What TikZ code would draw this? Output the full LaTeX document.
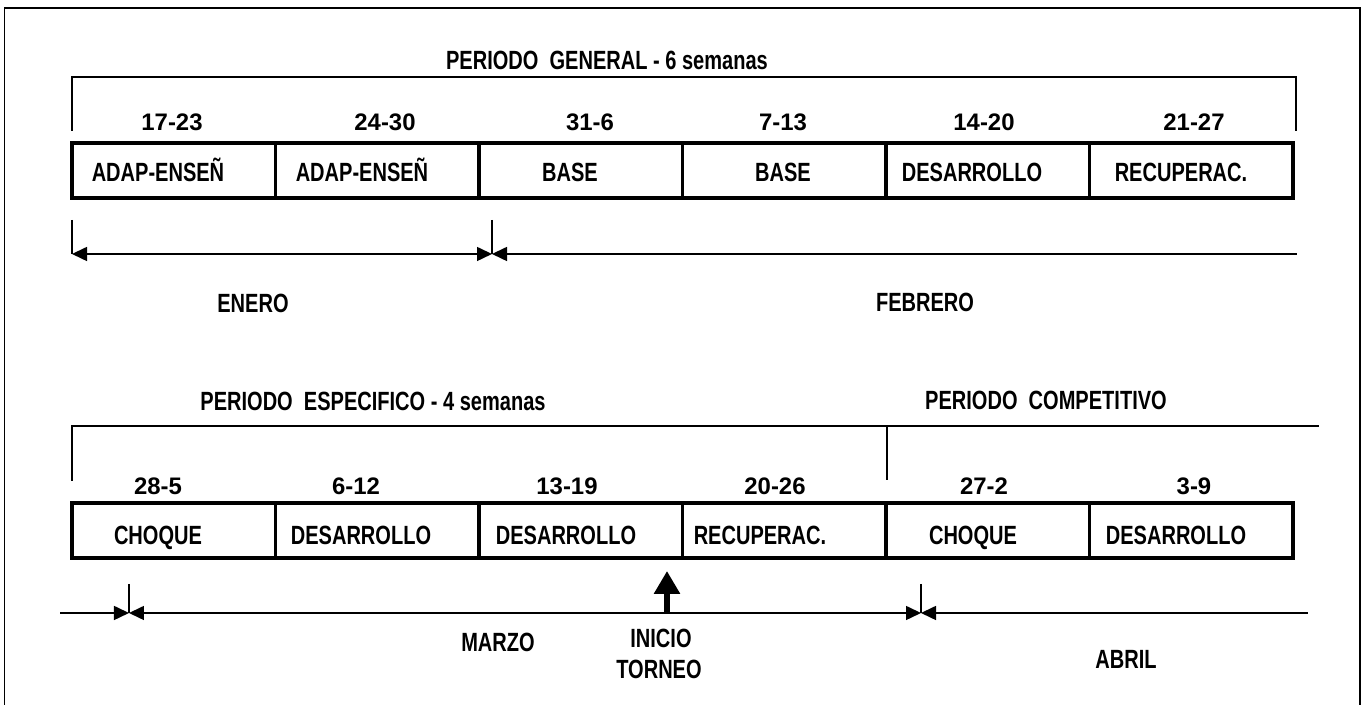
\documentclass[tikz,border=0pt]{standalone}
\usepackage{fontspec}
\setmainfont{Liberation Sans}[FakeStretch=0.76]
\newfontfamily\numfont{Liberation Sans}
\usetikzlibrary{arrows.meta,positioning}

\begin{document}
\begin{tikzpicture}[
  week/.style={rectangle, draw, line width=0.9pt, outer sep=0pt, inner sep=0pt,
    minimum width=2.035cm, minimum height=0.55cm},
  lbl/.style={font=\fontsize{7.5}{9}\selectfont\bfseries, inner sep=0pt,
    text height=1.9mm, text depth=0pt},
  days/.style={font=\numfont\fontsize{6.8}{8}\selectfont\bfseries, inner sep=0pt,
    text height=1.7mm, text depth=0pt},
  rule/.style={line width=0.45pt},
  dim/.style={rule, >={Triangle[length=1.5mm,width=1.4mm]}}
]
\useasboundingbox (0,0) rectangle (13.67,-7.05);
\draw[line width=0.5pt] (0.045,-7.05) |- (13.60,-0.08) -- (13.60,-7.05);

% periodo general
\node[lbl] (gen) at (6.07,-0.60) {PERIODO\ \ GENERAL - 6 semanas};
\draw[rule] (0.72,-1.31) |- (12.96,-0.77) -- (12.96,-1.31);

\node[week, anchor=north west] (g1) at (0.72,-1.43) {};
\node[week, right=0pt of g1] (g2) {};
\node[week, right=0pt of g2] (g3) {};
\node[week, right=0pt of g3] (g4) {};
\node[week, right=0pt of g4] (g5) {};
\node[week, right=0pt of g5] (g6) {};

\node[days] (gd1) at (1.72,-1.225) {17-23};
\node[days] (gd2) at (3.85,-1.225) {24-30};
\node[days] (gd3) at (5.90,-1.225) {31-6};
\node[days] (gd4) at (7.83,-1.225) {7-13};
\node[days] (gd5) at (9.84,-1.225) {14-20};
\node[days] (gd6) at (11.94,-1.225) {21-27};

\node[lbl] (gl1) at (1.58,-1.72) {ADAP-ENSEÑ};
\node[lbl] (gl2) at (3.62,-1.72) {ADAP-ENSEÑ};
\node[lbl] (gl3) at (5.70,-1.72) {BASE};
\node[lbl] (gl4) at (7.83,-1.72) {BASE};
\node[lbl] (gl5) at (9.72,-1.72) {DESARROLLO};
\node[lbl] (gl6) at (11.81,-1.72) {RECUPERAC.};

% enero - febrero
\coordinate (a0) at (0.72,-2.54);
\coordinate (a1) at (4.92,-2.54);
\coordinate (a2) at (12.97,-2.54);
\draw[rule] (0.72,-2.20) -- (a0);
\draw[rule] (4.92,-2.20) -- (a1);
\draw[dim, <->] (a0) -- (a1);
\draw[dim, <-] (a1) -- (a2);

\node[lbl] (ene) at (2.53,-3.03) {ENERO};
\node[lbl] (feb) at (9.25,-3.02) {FEBRERO};

% periodo especifico y competitivo
\node[lbl] (esp) at (3.73,-4.01) {PERIODO\ \ ESPECIFICO - 4 semanas};
\node[lbl] (comp) at (10.46,-4.00) {PERIODO\ \ COMPETITIVO};
\draw[rule] (0.72,-4.81) |- (13.19,-4.26);
\draw[rule] (8.87,-4.26) -- (8.87,-4.80);

\node[week, anchor=north west] (e1) at (0.72,-5.03) {};
\node[week, right=0pt of e1] (e2) {};
\node[week, right=0pt of e2] (e3) {};
\node[week, right=0pt of e3] (e4) {};
\node[week, right=0pt of e4] (e5) {};
\node[week, right=0pt of e5] (e6) {};

\node[days] (ed1) at (1.58,-4.86) {28-5};
\node[days] (ed2) at (3.56,-4.86) {6-12};
\node[days] (ed3) at (5.67,-4.86) {13-19};
\node[days] (ed4) at (7.75,-4.86) {20-26};
\node[days] (ed5) at (9.84,-4.86) {27-2};
\node[days] (ed6) at (11.94,-4.86) {3-9};

\node[lbl] (el1) at (1.58,-5.35) {CHOQUE};
\node[lbl] (el2) at (3.61,-5.35) {DESARROLLO};
\node[lbl] (el3) at (5.66,-5.35) {DESARROLLO};
\node[lbl] (el4) at (7.60,-5.35) {RECUPERAC.};
\node[lbl] (el5) at (9.73,-5.35) {CHOQUE};
\node[lbl] (el6) at (11.76,-5.35) {DESARROLLO};

% marzo - abril
\coordinate (s0) at (0.60,-6.13);
\coordinate (s1) at (1.29,-6.13);
\coordinate (s2) at (9.21,-6.13);
\coordinate (s3) at (13.08,-6.13);
\draw[rule] (1.29,-5.84) -- (s1);
\draw[rule] (9.21,-5.84) -- (s2);
\draw[dim, ->] (s0) -- (s1);
\draw[dim, <->] (s1) -- (s2);
\draw[dim, <-] (s2) -- (s3);

\coordinate (ini) at (6.67,-6.13);
\coordinate (ini top) at (6.67,-5.71);
\draw[line width=1.8pt, -{Triangle[length=2.3mm,width=2.5mm]}] (ini) -- (ini top);

\node[lbl] (mar) at (4.98,-6.42) {MARZO};
\node[lbl] (ini1) at (6.61,-6.38) {INICIO};
\node[lbl] (ini2) at (6.59,-6.69) {TORNEO};
\node[lbl] (abr) at (11.26,-6.59) {ABRIL};

\end{tikzpicture}
\end{document}
